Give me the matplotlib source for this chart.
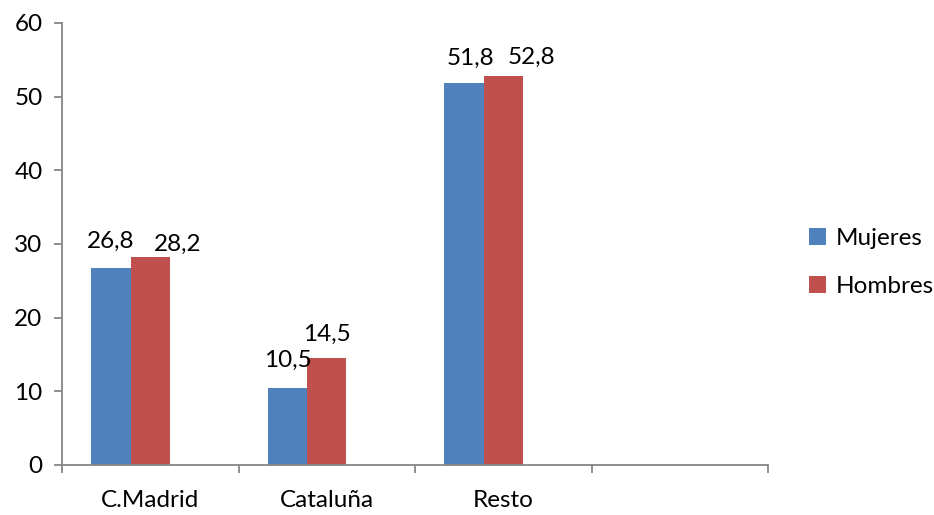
import numpy as np
import matplotlib.pyplot as plt

# datos
regiones = ["C.Madrid", "Cataluña", "Resto", ""]
mujeres = [26.8, 10.5, 51.8]
hombres = [28.2, 14.5, 52.8]
etiquetas_m = ["26,8", "10,5", "51,8"]
etiquetas_h = ["28,2", "14,5", "52,8"]

# desplazamiento de cada etiqueta (px), como en el original movidas a mano
desp_m = [(0, 20), (0, 21), (6, 19)]
desp_h = [(27, 6), (0, 17), (28, 12)]

azul = "#4F81BD"
rojo = "#C0504D"
gris = "#868686"

plt.rcParams['font.family'] = ['Lato', 'DejaVu Sans']

fig = plt.figure(figsize=(9.34, 5.15), dpi=100)
ax = fig.add_axes([0.0664, 0.0971, 0.7559, 0.8583])

# 3 series en Excel (la tercera vacia), hueco 150%
ancho = 1 / 4.5
x = np.arange(len(mujeres))
b1 = ax.bar(x + 0.75 * ancho, mujeres, width=ancho, align="edge", color=azul, label="Mujeres")
b2 = ax.bar(x + 1.75 * ancho, hombres, width=ancho, align="edge", color=rojo, label="Hombres")

for barras, textos, desp in [(b1, etiquetas_m, desp_m), (b2, etiquetas_h, desp_h)]:
    for b, t, d in zip(barras, textos, desp):
        ax.annotate(t, (b.get_x() + b.get_width() / 2, b.get_height()),
                    xytext=d, textcoords="offset pixels",
                    ha="center", va="baseline", fontsize=17.5)

ax.set_xlim(0, 4)
ax.set_ylim(0, 60)
ax.set_yticks(range(0, 61, 10))
ax.set_xticks(range(0, 5))
ax.set_xticklabels([])
ax.set_xticks(np.arange(4) + 0.5, minor=True)
ax.set_xticklabels(regiones, minor=True)
ax.tick_params(axis="x", which="minor", length=0, pad=18, labelsize=17.5)
ax.tick_params(axis="x", which="major", length=6, direction="out", color=gris, width=1.3)
ax.tick_params(axis="y", length=6, direction="out", color=gris, width=1.3, labelsize=17.5, pad=8)

for s in ["top", "right"]:
    ax.spines[s].set_visible(False)
for s in ["left", "bottom"]:
    ax.spines[s].set_color(gris)
    ax.spines[s].set_linewidth(1.3)

fig.legend(handles=[b1, b2], loc="center left", bbox_to_anchor=(0.843, 0.49),
           frameon=False, fontsize=17.5, handlelength=0.7, handleheight=0.7,
           handletextpad=0.4, labelspacing=1.1)

fig.savefig("out.png", dpi=100)
